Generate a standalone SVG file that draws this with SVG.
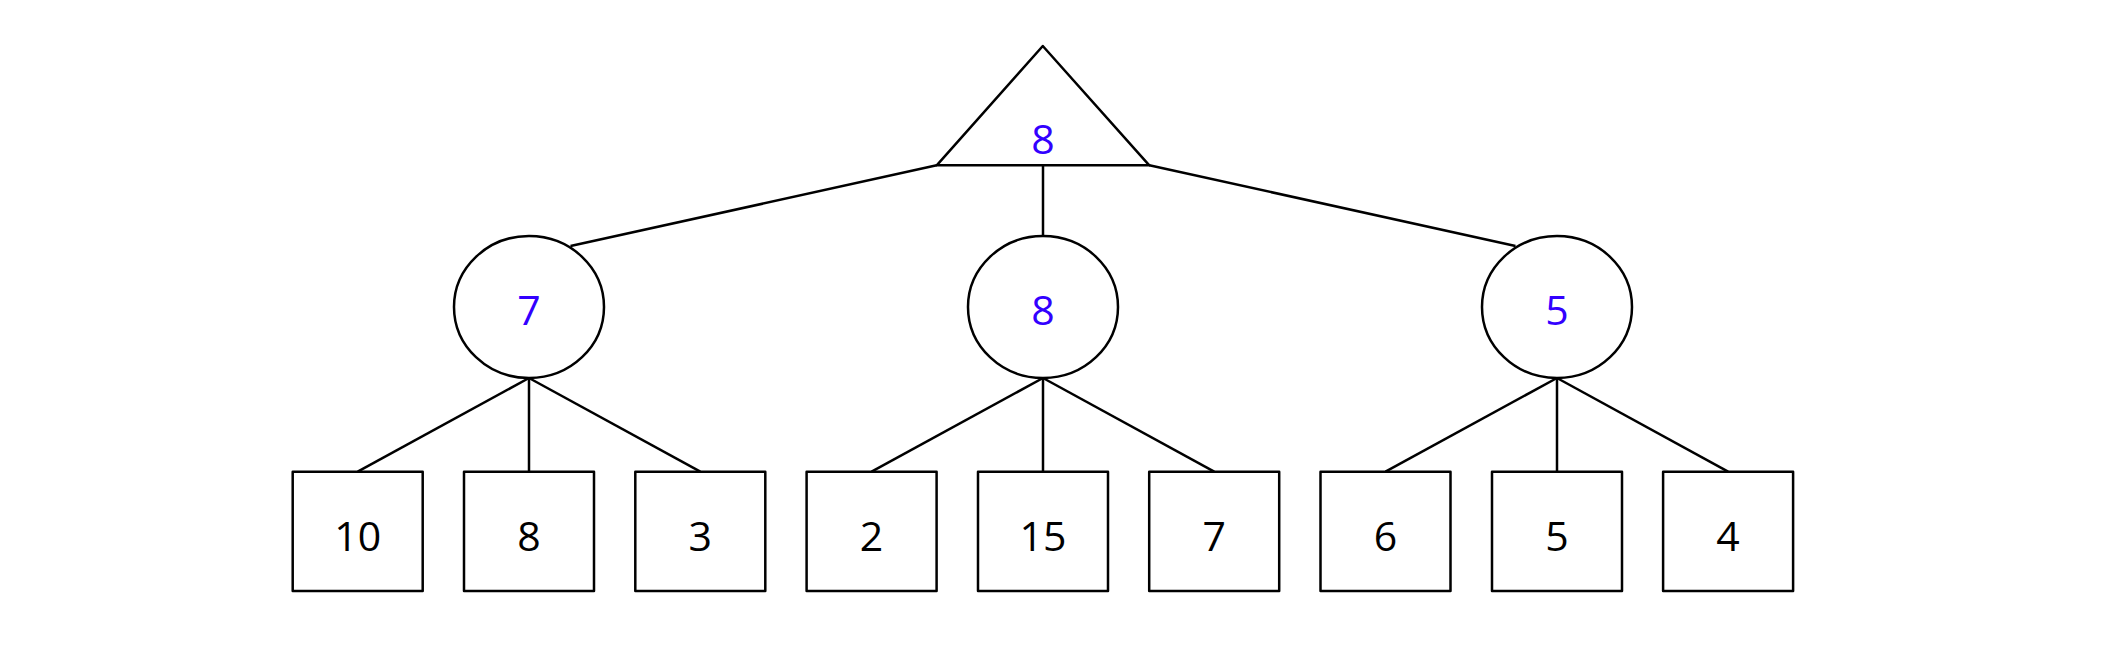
<svg xmlns="http://www.w3.org/2000/svg" width="2112" height="654" viewBox="0 0 2112 654">
<style>
.s{fill:#fff;stroke:#000;stroke-width:2.5;stroke-linejoin:round}
.e{stroke:#000;stroke-width:2.5;fill:none}
.t{font-family:"Open Sans","Liberation Sans",sans-serif;font-size:41px;text-anchor:middle}
.b{fill:#3300ff}
.k{fill:#000}
</style>
<rect width="2112" height="654" fill="#fff"/>
<g id="edges">
<line class="e" x1="936.7" y1="165.3" x2="570.5" y2="246"/>
<line class="e" x1="1043" y1="165.3" x2="1043" y2="236"/>
<line class="e" x1="1149.3" y1="165.3" x2="1515.5" y2="246"/>
<line class="e" x1="529" y1="378" x2="357.7" y2="471.7"/>
<line class="e" x1="529" y1="378" x2="529" y2="471.7"/>
<line class="e" x1="529" y1="378" x2="700.3" y2="471.7"/>
<line class="e" x1="1043" y1="378" x2="871.6" y2="471.7"/>
<line class="e" x1="1043" y1="378" x2="1043" y2="471.7"/>
<line class="e" x1="1043" y1="378" x2="1214.2" y2="471.7"/>
<line class="e" x1="1557" y1="378" x2="1385.5" y2="471.7"/>
<line class="e" x1="1557" y1="378" x2="1557" y2="471.7"/>
<line class="e" x1="1557" y1="378" x2="1728.1" y2="471.7"/>
</g>
<g id="root"><polygon class="s" points="1042.8,46 1149.3,165.3 936.7,165.3"/><text class="t b" x="1043" y="154">8</text></g>
<g id="n1"><ellipse class="s" cx="529" cy="307" rx="75" ry="71"/><text class="t b" x="529" y="325">7</text></g>
<g id="n2"><ellipse class="s" cx="1043" cy="307" rx="75" ry="71"/><text class="t b" x="1043" y="325">8</text></g>
<g id="n3"><ellipse class="s" cx="1557" cy="307" rx="75" ry="71"/><text class="t b" x="1557" y="325">5</text></g>
<g id="l1"><rect class="s" x="292.7" y="471.7" width="130" height="119.3"/><text class="t k" x="357.7" y="551">10</text></g>
<g id="l2"><rect class="s" x="464" y="471.7" width="130" height="119.3"/><text class="t k" x="529" y="551">8</text></g>
<g id="l3"><rect class="s" x="635.3" y="471.7" width="130" height="119.3"/><text class="t k" x="700.3" y="551">3</text></g>
<g id="l4"><rect class="s" x="806.6" y="471.7" width="130" height="119.3"/><text class="t k" x="871.6" y="551">2</text></g>
<g id="l5"><rect class="s" x="978" y="471.7" width="130" height="119.3"/><text class="t k" x="1043" y="551">15</text></g>
<g id="l6"><rect class="s" x="1149.2" y="471.7" width="130" height="119.3"/><text class="t k" x="1214.2" y="551">7</text></g>
<g id="l7"><rect class="s" x="1320.5" y="471.7" width="130" height="119.3"/><text class="t k" x="1385.5" y="551">6</text></g>
<g id="l8"><rect class="s" x="1492" y="471.7" width="130" height="119.3"/><text class="t k" x="1557" y="551">5</text></g>
<g id="l9"><rect class="s" x="1663.1" y="471.7" width="130" height="119.3"/><text class="t k" x="1728.1" y="551">4</text></g>
</svg>
